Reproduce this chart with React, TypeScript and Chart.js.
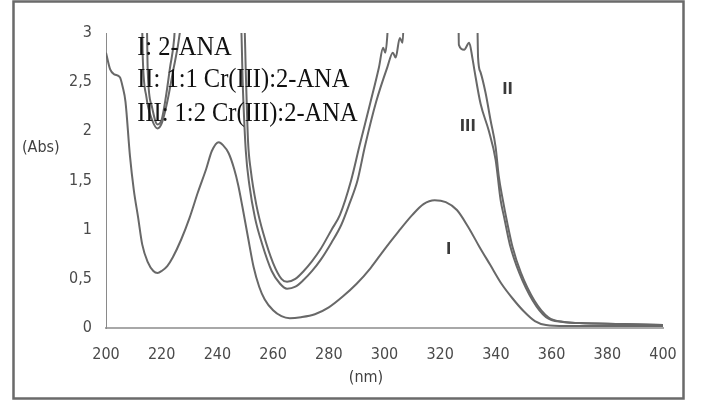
import { useEffect, useRef } from "react";
import { Chart, registerables } from "chart.js";
Chart.register(...registerables);

// ---- data ----
const xMin = 200;
const xMax = 400;
const xStep = 20;
const yMin = 0;
const yMax = 3;
const yStep = 0.5;

// Series I: 2-ANA
const nmI = [200, 201.5, 203, 205, 206, 207, 208.6, 210, 211.5, 213, 215, 217, 218.5, 220, 222, 224, 227, 230, 233, 236, 238, 240.5, 242, 244, 246, 247.5, 249, 251, 253, 255, 257, 260, 263, 266, 270, 275, 280, 285, 290, 295, 300, 305, 310, 314, 318, 322, 326, 330, 334, 338, 342, 346, 350, 354, 358, 365, 380, 400];
const absI = [2.8, 2.63, 2.58, 2.55, 2.45, 2.3, 1.75, 1.4, 1.13, 0.85, 0.67, 0.58, 0.56, 0.58, 0.63, 0.72, 0.9, 1.12, 1.38, 1.62, 1.8, 1.89, 1.86, 1.78, 1.62, 1.45, 1.23, 0.92, 0.62, 0.42, 0.29, 0.18, 0.12, 0.1, 0.11, 0.14, 0.21, 0.32, 0.45, 0.61, 0.8, 0.98, 1.15, 1.26, 1.3, 1.28, 1.2, 1.03, 0.83, 0.64, 0.45, 0.3, 0.17, 0.07, 0.03, 0.02, 0.02, 0.02];

// Series II: 1:1 Cr(III):2-ANA
const nmII = [200, 214.5, 215, 216.5, 218.5, 220, 221.5, 223, 224.5, 225.2, 235, 249.4, 250.3, 251, 252, 254, 256.5, 260, 263, 265, 268, 271, 274, 277, 281, 284, 288, 291, 295, 298, 299.5, 300.3, 301, 301.6, 315, 333.2, 333.6, 334.5, 336.3, 338.1, 339.9, 341, 342.5, 344, 346, 349, 353.8, 358.8, 364.5, 370, 385, 400];
const absII = [3.3, 3.3, 2.6, 2.25, 2.07, 2.12, 2.35, 2.65, 2.95, 3.3, 3.3, 3.3, 2.5, 1.9, 1.6, 1.25, 0.96, 0.66, 0.5, 0.47, 0.5, 0.58, 0.68, 0.8, 1.0, 1.15, 1.5, 1.85, 2.3, 2.65, 2.85, 2.8, 2.97, 3.3, 3.3, 3.3, 2.75, 2.6, 2.39, 2.11, 1.84, 1.55, 1.3, 1.08, 0.82, 0.56, 0.28, 0.11, 0.06, 0.05, 0.04, 0.03];

// Series III: 1:2 Cr(III):2-ANA
const nmIII = [200, 212.8, 213.2, 214.5, 216.5, 218.5, 220, 222, 224, 226.5, 227.5, 237, 248.2, 249.2, 250.2, 251.5, 253.5, 256, 259.5, 262.5, 265, 268, 271, 274, 277, 281, 284.5, 287.5, 290.3, 293, 297, 301, 303, 304, 305.5, 306.5, 307.2, 318, 326.5, 326.7, 328.6, 330.4, 331.6, 332.3, 334.5, 337.4, 339.9, 341.7, 343, 345, 348.4, 353.2, 358, 364, 370, 385, 400];
const absIII = [3.3, 3.3, 2.75, 2.35, 2.12, 2.03, 2.08, 2.3, 2.6, 3.0, 3.3, 3.3, 3.3, 2.4, 1.8, 1.45, 1.12, 0.86, 0.58, 0.45, 0.4, 0.42, 0.49, 0.58, 0.69, 0.87, 1.05, 1.27, 1.5, 1.85, 2.3, 2.65, 2.8, 2.75, 2.95, 2.9, 3.3, 3.3, 3.3, 2.88, 2.83, 2.9, 2.74, 2.62, 2.28, 2.01, 1.71, 1.3, 1.12, 0.85, 0.56, 0.28, 0.11, 0.06, 0.05, 0.04, 0.03];

const legendLines = ["I: 2-ANA", "II: 1:1 Cr(III):2-ANA", "III: 1:2 Cr(III):2-ANA"];
const legendNm = 211.2;
const legendAbs = [2.85, 2.52, 2.18];

const curveTags = ["I", "II", "III"];
const tagNm = [323, 344.2, 329.9];
const tagAbs = [0.79, 2.42, 2.05];

const yTitle = "(Abs)";
const xTitle = "(nm)";

const toPoints = (xs: number[], ys: number[]) => xs.map((x, i) => ({ x, y: ys[i] }));

const LINE = "#686868";
const TICK_FONT = '"Liberation Sans Narrow", "DejaVu Sans Condensed", "Liberation Sans", sans-serif';

const decorPlugin = {
  id: "decor",
  beforeDraw(chart: any) {
    const { ctx, width, height } = chart;
    ctx.save();
    ctx.fillStyle = "#ffffff";
    ctx.fillRect(0, 0, width, height);
    ctx.restore();
  },
  afterDraw(chart: any) {
    const { ctx } = chart;
    const xs = chart.scales.x;
    const ys = chart.scales.y;
    ctx.save();
    // outer frame
    ctx.strokeStyle = "#6a6a6a";
    ctx.lineWidth = 2.5;
    ctx.strokeRect(13.5, 1.5, 670, 397);

    // legend text (slightly stretched vertically like the source)
    ctx.fillStyle = "#111111";
    ctx.font = '24.5px "Liberation Serif", "Times New Roman", serif';
    ctx.textAlign = "left";
    ctx.textBaseline = "middle";
    const sy = 1.12;
    legendLines.forEach((t, i) => {
      const px = xs.getPixelForValue(legendNm);
      const py = ys.getPixelForValue(legendAbs[i]);
      ctx.save();
      ctx.translate(px, py);
      ctx.scale(1, sy);
      ctx.fillText(t, 0, 0);
      ctx.restore();
    });

    // curve tags
    ctx.fillStyle = "#3a3a3a";
    ctx.font = 'bold 16px ' + TICK_FONT;
    ctx.textAlign = "center";
    curveTags.forEach((t, i) => {
      ctx.fillText(t, xs.getPixelForValue(tagNm[i]), ys.getPixelForValue(tagAbs[i]));
    });

    // axis titles
    ctx.fillStyle = "#404040";
    ctx.font = '16px ' + TICK_FONT;
    ctx.textAlign = "left";
    ctx.fillText(yTitle, 22, 148);
    ctx.textAlign = "center";
    ctx.fillText(xTitle, 366, 378);
    ctx.restore();
  },
};

export default function App() {
  const ref = useRef<HTMLCanvasElement | null>(null);
  useEffect(() => {
    if (!ref.current) return;
    const mk = (xs: number[], ys: number[], label: string) => ({
      label,
      data: toPoints(xs, ys),
      borderColor: LINE,
      borderWidth: 2,
      pointRadius: 0,
      fill: false,
      tension: 0.4,
      cubicInterpolationMode: "monotone" as const,
    });
    const chart = new Chart(ref.current, {
      type: "line",
      data: {
        datasets: [
          mk(nmI, absI, legendLines[0]),
          mk(nmII, absII, legendLines[1]),
          mk(nmIII, absIII, legendLines[2]),
        ],
      },
      options: {
        responsive: false,
        animation: false,
        devicePixelRatio: 1,
        layout: { padding: { left: 0, right: 39, top: 33, bottom: 0 } },
        plugins: { legend: { display: false }, tooltip: { enabled: false } },
        scales: {
          x: {
            type: "linear",
            min: xMin,
            max: xMax,
            afterFit: (s: any) => { s.height = 75; },
            ticks: {
              stepSize: xStep,
              autoSkip: false,
              maxRotation: 0,
              padding: 17,
              color: "#4a4a4a",
              font: { family: TICK_FONT, size: 16 },
            },
            grid: { display: false, drawTicks: false, tickLength: 0 },
            border: { display: true, color: "#a8a8a8", width: 2 },
          },
          y: {
            type: "linear",
            min: yMin,
            max: yMax,
            afterFit: (s: any) => { s.width = 106; },
            ticks: {
              stepSize: yStep,
              padding: 14,
              color: "#4a4a4a",
              font: { family: TICK_FONT, size: 16 },
              callback: (v: any) => String(v).replace(".", ","),
            },
            grid: { display: false, drawTicks: false, tickLength: 0 },
            border: { display: true, color: "#8a8a8a", width: 1 },
          },
        },
      },
      plugins: [decorPlugin],
    });
    return () => chart.destroy();
  }, []);
  return (
    <div style={{ position: "absolute", left: 0, top: 0, width: 702, height: 403 }}>
      <canvas ref={ref} width={702} height={403} />
    </div>
  );
}
